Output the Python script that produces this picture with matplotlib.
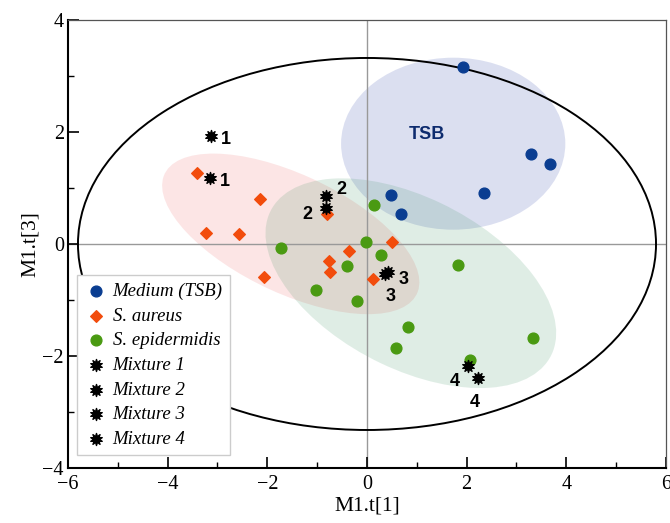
import matplotlib
matplotlib.use('Agg')
import matplotlib.pyplot as plt
from matplotlib.patches import Ellipse
from matplotlib.ticker import MultipleLocator

# scores
tsb_x = [1.93, 3.29, 3.67, 2.35, 0.48, 0.68]
tsb_y = [3.16, 1.61, 1.43, 0.91, 0.88, 0.54]

aur_x = [-3.42, -2.15, -3.24, -2.57, -0.81, -2.07, -0.36, -0.76, -0.74, 0.50, 0.13]
aur_y = [1.27, 0.81, 0.20, 0.18, 0.54, -0.59, -0.13, -0.31, -0.50, 0.04, -0.62]

epi_x = [-1.73, 0.14, -0.01, 0.28, -0.40, -1.03, -0.21, 1.83, 0.83, 0.58, 2.07, 3.33]
epi_y = [-0.07, 0.70, 0.04, -0.19, -0.39, -0.82, -1.02, -0.38, -1.48, -1.86, -2.07, -1.68]

mix_x = {1: [-3.13, -3.15], 2: [-0.83, -0.82], 3: [0.36, 0.42], 4: [2.03, 2.22]}
mix_y = {1: [1.93, 1.18], 2: [0.85, 0.64], 3: [-0.54, -0.50], 4: [-2.18, -2.39]}
# label offsets (points) for each mixture replicate
mix_off = {1: [(7, -6), (7, -6)], 2: [(8, 2), (-17, -8)],
           3: [(10, -7), (-2, -21)], 4: [(-13, -14), (-6, -21)]}

serif = 'Liberation Serif'
sans = 'Liberation Sans'

fig, ax = plt.subplots(figsize=(6.7, 5.23), dpi=100)
fig.subplots_adjust(left=0.1015, right=0.994, bottom=0.105, top=0.962)

# confidence regions
ax.add_patch(Ellipse((1.73, 1.79), 4.5, 3.07, angle=0, facecolor='#3a4fb0',
                     alpha=0.18, edgecolor='none', zorder=1))
ax.add_patch(Ellipse((-1.53, 0.18), 5.5, 2.15, angle=-22, facecolor='#f08080',
                     alpha=0.2, edgecolor='none', zorder=1))
ax.add_patch(Ellipse((0.88, -0.70), 6.2, 3.1, angle=-23, facecolor='#2e8b57',
                     alpha=0.15, edgecolor='none', zorder=1))
# Hotelling T2 ellipse
ax.add_patch(Ellipse((0, 0), 11.6, 6.64, facecolor='none', edgecolor='black',
                     lw=1.4, zorder=2))

ax.axhline(0, color='#999999', lw=1.0, zorder=1.5)
ax.axvline(0, color='#999999', lw=1.0, zorder=1.5)

ax.scatter(tsb_x, tsb_y, s=60, marker='o', color='#0a3d91', zorder=3,
           label='Medium (TSB)')
ax.scatter(aur_x, aur_y, s=35, marker='D', color='#f24c0c', zorder=3,
           label='S. aureus')
ax.scatter(epi_x, epi_y, s=60, marker='o', color='#4a9a12', zorder=3,
           label='S. epidermidis')
for k in [1, 2, 3, 4]:
    ax.scatter(mix_x[k], mix_y[k], s=75, marker=(10, 1, 0), color='black',
               zorder=4, label='Mixture %d' % k)
    for x, y, off in zip(mix_x[k], mix_y[k], mix_off[k]):
        ax.annotate(str(k), (x, y), xytext=off, textcoords='offset points',
                    fontsize=13, fontweight='bold', family=sans, zorder=5)

ax.text(1.2, 1.96, 'TSB', fontsize=13, fontweight='bold', family=sans,
        color='#0d2b6e', ha='center', va='center', zorder=5)

ax.set_xlim(-6, 6)
ax.set_ylim(-4, 4)
ax.xaxis.set_major_locator(MultipleLocator(2))
ax.xaxis.set_minor_locator(MultipleLocator(1))
ax.yaxis.set_major_locator(MultipleLocator(2))
ax.yaxis.set_minor_locator(MultipleLocator(1))
ax.tick_params(which='major', direction='in', length=8, width=1.2,
               labelsize=14.5, pad=3)
ax.tick_params(axis='x', which='major', pad=5)
ax.tick_params(which='minor', direction='in', length=4.5, width=1.0)
for lab in ax.get_xticklabels() + ax.get_yticklabels():
    lab.set_family(serif)

for s in ['left', 'bottom']:
    ax.spines[s].set_linewidth(1.5)
for s in ['top', 'right']:
    ax.spines[s].set_linewidth(0.9)
    ax.spines[s].set_color('#555555')

ax.set_xlabel('M1.t[1]', fontsize=15.5, family=serif, labelpad=2)
ax.set_ylabel('M1.t[3]', fontsize=15.5, family=serif, labelpad=2)

leg = ax.legend(loc='upper left', bbox_to_anchor=(0.015, 0.43),
                borderaxespad=0,
                prop={'family': serif, 'style': 'italic', 'size': 13.5},
                fancybox=False, edgecolor='#cccccc', framealpha=1,
                labelspacing=0.4, handletextpad=0.3, borderpad=0.4,
                handlelength=1.2)
leg.set_zorder(6)

plt.savefig('out.png', dpi=100)
